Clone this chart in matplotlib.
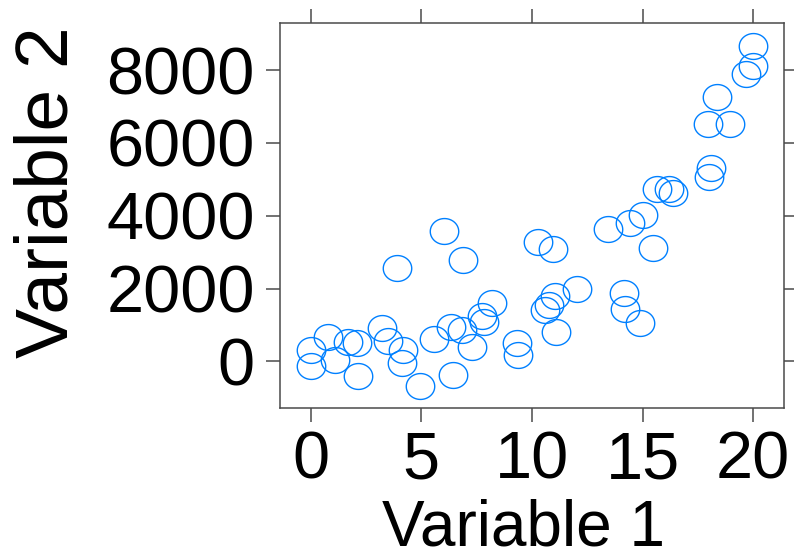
import matplotlib
matplotlib.use("Agg")
import matplotlib.pyplot as plt
from matplotlib.path import Path
import numpy as np

# values
var1 = [0.0, 0.0, 0.80, 1.10, 1.70, 2.08, 2.12, 3.21, 3.51, 3.89,
        4.19, 4.11, 4.94, 5.57, 6.04, 6.33, 6.44, 6.87, 6.82, 7.27,
        7.73, 7.83, 8.18, 9.34, 9.38, 10.29, 10.93, 10.59, 10.78, 11.04,
        11.08, 12.02, 13.45, 14.17, 14.20, 14.88, 14.43, 15.00, 15.45, 15.63,
        16.21, 16.36, 18.07, 18.01, 17.97, 18.95, 18.37, 19.67, 19.97, 20.0]
var2 = [310, -129, 676, 36, 539, 494, -404, 923, 558, 2555,
        310, -37, -670, 604, 3588, 951, -376, 2783, 860, 384,
        1244, 1088, 1610, 494, 173, 3286, 3077, 1409, 1547, 1794,
        813, 1978, 3626, 1885, 1428, 1044, 3808, 4019, 3104, 4725,
        4725, 4632, 5302, 5071, 6519, 6519, 7252, 7892, 8112, 8661]

x_ticks = [0, 5, 10, 15, 20]
y_ticks = [0, 2000, 4000, 6000, 8000]
x_label = "Variable 1"
y_label = "Variable 2"

plt.rcParams['font.family'] = ['Liberation Sans', 'DejaVu Sans']

# slightly wide open circle, as in the reference
t = np.linspace(0, 2 * np.pi, 60)
ring = Path(np.column_stack([1.1 * np.cos(t), np.sin(t)]), closed=True)

W, H = 794, 558
fig = plt.figure(figsize=(W / 100, H / 100), dpi=100)
ax = fig.add_axes([0.3526, 0.2688, 0.6348, 0.6894])

ax.plot(var1, var2, linestyle='none', marker=ring, markersize=20.5,
        markerfacecolor='none', markeredgecolor='#0080ff', markeredgewidth=1.0)

ax.set_xlim(-1.387, 21.39)
ax.set_ylim(-1283, 9285)
ax.set_xticks(x_ticks)
ax.set_yticks(y_ticks)

frame_col = '#4a4a4a'
for s in ax.spines.values():
    s.set_color(frame_col)
    s.set_linewidth(1.1)

ax.tick_params(direction='out', length=10, width=1.1, color=frame_col,
               top=True, right=True, labeltop=False, labelright=False,
               labelsize=48)
ax.tick_params(axis='x', pad=6)
ax.tick_params(axis='y', pad=8)

# axis titles placed by baseline, as lattice does
fig.text(524 / W, 1 - 545 / H, x_label, fontsize=46,
         ha='center', va='baseline')
fig.text(67 / W, 1 - 192 / H, y_label, fontsize=54, rotation=90,
         rotation_mode='anchor', ha='center', va='baseline')

fig.savefig("out.png", dpi=100)
